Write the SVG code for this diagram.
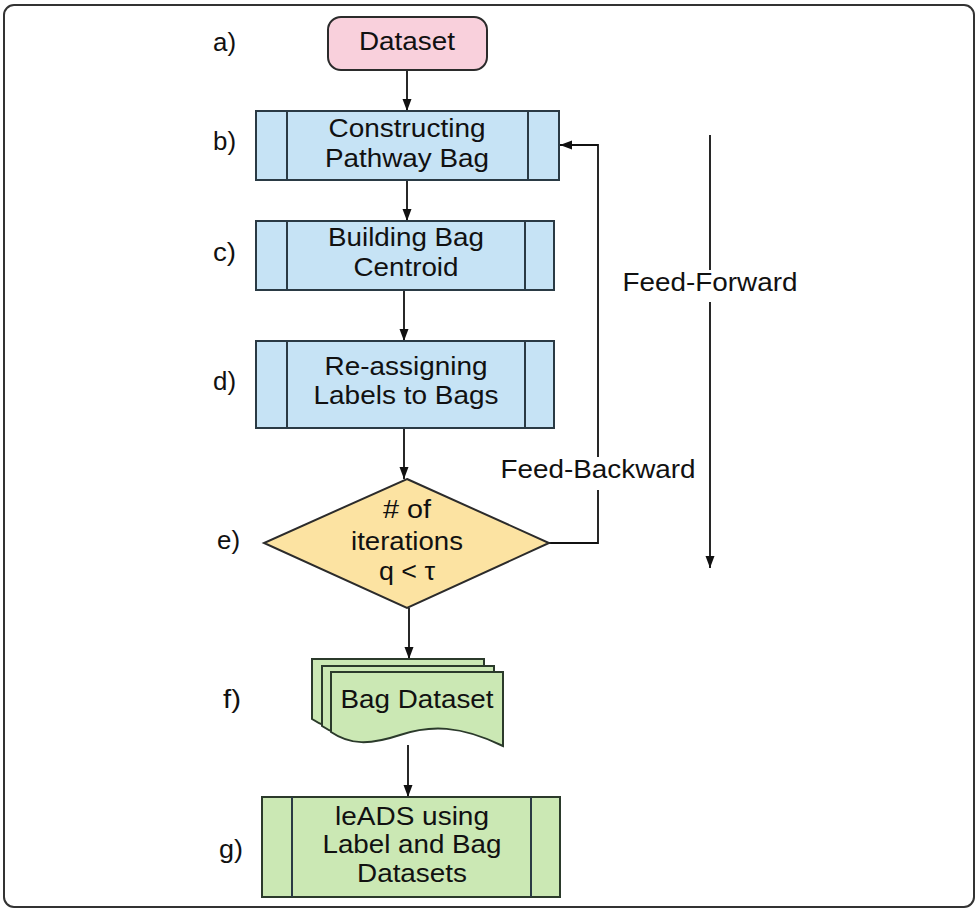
<svg xmlns="http://www.w3.org/2000/svg" width="979" height="912" viewBox="0 0 979 912">
<style>
  text { font-family: "Liberation Sans", Arial, sans-serif; font-size: 25px; fill: #111; text-anchor: middle; }
  .lbl { text-anchor: start; }
  .blue { fill: #c6e3f5; stroke: #2a3a44; stroke-width: 2; }
  .green { fill: #cbe8b4; stroke: #2b3a2b; stroke-width: 2; }
  .inner { fill: none; stroke: #2a3a44; stroke-width: 2; }
  .conn { fill: none; stroke: #111; stroke-width: 1.8; }
</style>
<defs>
  <marker id="arr" viewBox="0 0 12 10" refX="12" refY="5" markerWidth="12" markerHeight="10" markerUnits="userSpaceOnUse" orient="auto">
    <path d="M0,0.5 L12,5 L0,9.5 Z" fill="#111"/>
  </marker>
</defs>
<rect x="0" y="0" width="979" height="912" fill="#fff"/>
<rect x="4" y="5" width="970" height="902" rx="10" fill="#fff" stroke="#333" stroke-width="2"/>

<g id="labels">
  <text class="lbl" x="213" y="51" textLength="23" lengthAdjust="spacingAndGlyphs">a)</text>
  <text class="lbl" x="213" y="150" textLength="23" lengthAdjust="spacingAndGlyphs">b)</text>
  <text class="lbl" x="213" y="261" textLength="23" lengthAdjust="spacingAndGlyphs">c)</text>
  <text class="lbl" x="213" y="390" textLength="23" lengthAdjust="spacingAndGlyphs">d)</text>
  <text class="lbl" x="217" y="549" textLength="23" lengthAdjust="spacingAndGlyphs">e)</text>
  <text class="lbl" x="223" y="708" textLength="18" lengthAdjust="spacingAndGlyphs">f)</text>
  <text class="lbl" x="219" y="858" textLength="24" lengthAdjust="spacingAndGlyphs">g)</text>
</g>

<g id="connectors">
  <line class="conn" x1="407" y1="70" x2="407" y2="111" marker-end="url(#arr)"/>
  <line class="conn" x1="407" y1="180" x2="407" y2="221" marker-end="url(#arr)"/>
  <line class="conn" x1="404" y1="290" x2="404" y2="341" marker-end="url(#arr)"/>
  <line class="conn" x1="404" y1="428" x2="404" y2="479" marker-end="url(#arr)"/>
  <line class="conn" x1="409" y1="608" x2="409" y2="659" marker-end="url(#arr)"/>
  <line class="conn" x1="408" y1="745" x2="408" y2="797" marker-end="url(#arr)"/>
  <path class="conn" d="M549,543 H598 V490 M598,457 V145 H560" marker-end="url(#arr)"/>
  <text x="598" y="478" textLength="195" lengthAdjust="spacingAndGlyphs">Feed-Backward</text>
  <path class="conn" d="M710,135 V270 M710,302 V568" marker-end="url(#arr)"/>
  <text x="710" y="291" textLength="175" lengthAdjust="spacingAndGlyphs">Feed-Forward</text>
</g>

<g id="node-a">
  <rect x="328" y="17" width="159" height="53" rx="13" fill="#f9d0dc" stroke="#2b2b2b" stroke-width="2"/>
  <text x="407" y="50" textLength="96" lengthAdjust="spacingAndGlyphs">Dataset</text>
</g>

<g id="node-b">
  <rect class="blue" x="256" y="111" width="303" height="69"/>
  <line class="inner" x1="287" y1="111" x2="287" y2="180"/>
  <line class="inner" x1="528" y1="111" x2="528" y2="180"/>
  <text x="407" y="137" textLength="157" lengthAdjust="spacingAndGlyphs">Constructing</text>
  <text x="407" y="167" textLength="164" lengthAdjust="spacingAndGlyphs">Pathway Bag</text>
</g>

<g id="node-c">
  <rect class="blue" x="256" y="221" width="298" height="69"/>
  <line class="inner" x1="287" y1="221" x2="287" y2="290"/>
  <line class="inner" x1="525" y1="221" x2="525" y2="290"/>
  <text x="406" y="246" textLength="156" lengthAdjust="spacingAndGlyphs">Building Bag</text>
  <text x="406" y="276" textLength="105" lengthAdjust="spacingAndGlyphs">Centroid</text>
</g>

<g id="node-d">
  <rect class="blue" x="256" y="341" width="298" height="87"/>
  <line class="inner" x1="287" y1="341" x2="287" y2="428"/>
  <line class="inner" x1="525" y1="341" x2="525" y2="428"/>
  <text x="406" y="375" textLength="163" lengthAdjust="spacingAndGlyphs">Re-assigning</text>
  <text x="406" y="404" textLength="185" lengthAdjust="spacingAndGlyphs">Labels to Bags</text>
</g>

<g id="node-e">
  <polygon points="407,479 549,543 407,608 264,543" fill="#fce3a2" stroke="#2b2b2b" stroke-width="2"/>
  <text x="407" y="518" textLength="48" lengthAdjust="spacingAndGlyphs"># of</text>
  <text x="407" y="550" textLength="112" lengthAdjust="spacingAndGlyphs">iterations</text>
  <text x="407" y="580" textLength="56" lengthAdjust="spacingAndGlyphs">q &lt; τ</text>
</g>

<g id="node-f">
  <path class="green" d="M312,659 H484 V733 C441,712 411,712 381,722 C351,732 331,732 312,719 Z"/>
  <path class="green" d="M322,666 H494 V740 C451,719 421,719 391,729 C361,739 341,739 322,726 Z"/>
  <path class="green" d="M331,672 H503 V746 C460,725 430,725 400,735 C370,745 350,745 331,732 Z"/>
  <text x="417" y="708" textLength="153" lengthAdjust="spacingAndGlyphs">Bag Dataset</text>
</g>

<g id="node-g">
  <rect class="green" x="262" y="797" width="298" height="100"/>
  <line class="inner" x1="292" y1="797" x2="292" y2="897" stroke="#2b3a2b"/>
  <line class="inner" x1="531" y1="797" x2="531" y2="897" stroke="#2b3a2b"/>
  <text x="412" y="825" textLength="154" lengthAdjust="spacingAndGlyphs">leADS using</text>
  <text x="412" y="853" textLength="179" lengthAdjust="spacingAndGlyphs">Label and Bag</text>
  <text x="412" y="882" textLength="110" lengthAdjust="spacingAndGlyphs">Datasets</text>
</g>
</svg>
